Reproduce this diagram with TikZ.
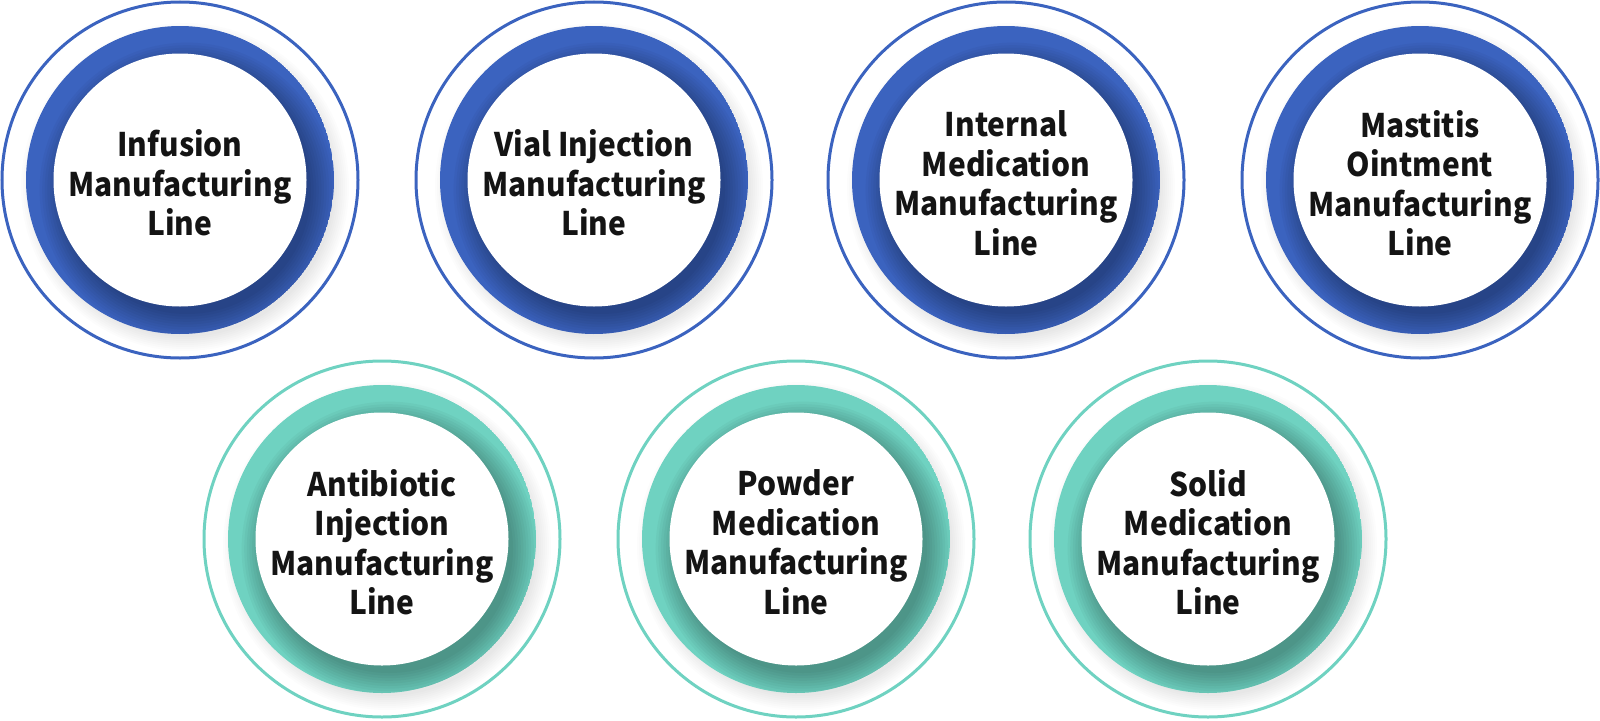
\documentclass[tikz,border=0pt]{standalone}
\usepackage{fontspec}
\newfontfamily\lblfont{Noto Sans CJK JP}[FakeStretch=0.92]
\definecolor{ringblue}{HTML}{3B63BF}
\definecolor{ringteal}{HTML}{6FD2C1}
\tikzset{
  lbl/.style={align=center, font=\lblfont\bfseries\fontsize{32.5}{39.5}\selectfont, text=black!92, inner sep=0pt},
  thinring/.style={draw=#1, line width=3pt},
}
\newcommand\medunit[5]{%
  \begin{scope}[shift={(#2,#3)}]
    \foreach \k in {0,...,7} \fill[black, opacity=0.012] (5,7) circle[radius={150pt+2pt*\k}];
    \draw[thinring=#4] (0,0) circle[radius=178pt];
    \begin{scope}
      \clip (0,0) circle[radius=154pt];
      \fill[#4] (0,0) circle[radius=154pt];
      \foreach \k in {0,...,9} \fill[black, opacity=0.03] (7,10) circle[radius={124pt+2.6pt*\k}];
    \end{scope}
    \fill[white] (0,0) circle[radius=126.5pt];
    \node[lbl] (#1) at (0,3) {#5};
  \end{scope}
}
\begin{document}
\begin{tikzpicture}[x=1pt,y=-1pt]
  \useasboundingbox (0,0) rectangle (1600,720);
  \medunit{infusion}{180}{180}{ringblue}{Infusion\\Manufacturing\\Line}
  \medunit{vial}{594}{180}{ringblue}{Vial Injection\\Manufacturing\\Line}
  \medunit{internal}{1006}{180}{ringblue}{Internal\\Medication\\Manufacturing\\Line}
  \medunit{mastitis}{1420}{180}{ringblue}{Mastitis\\Ointment\\Manufacturing\\Line}
  \medunit{antibiotic}{382}{539}{ringteal}{Antibiotic\\Injection\\Manufacturing\\Line}
  \medunit{powder}{796}{539}{ringteal}{Powder\\Medication\\Manufacturing\\Line}
  \medunit{solid}{1208}{539}{ringteal}{Solid\\Medication\\Manufacturing\\Line}
\end{tikzpicture}
\end{document}
